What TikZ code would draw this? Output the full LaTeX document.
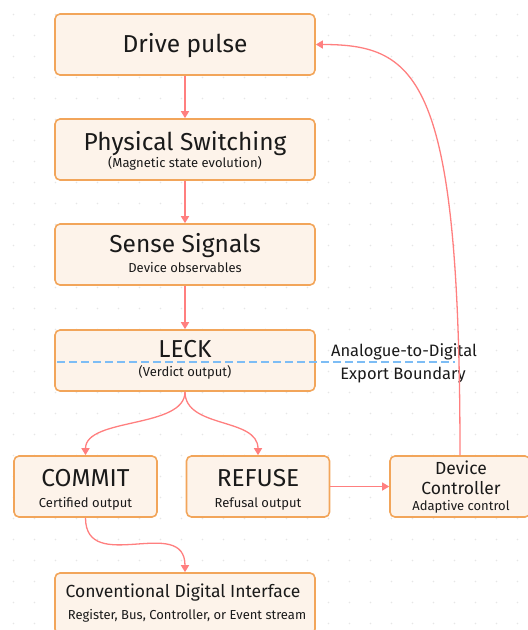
\documentclass[tikz,border=0pt]{standalone}
\usepackage{fontspec}
\setmainfont{Fira Sans}
\usepackage{tikz}
\usetikzlibrary{arrows.meta,calc}
\definecolor{boxfill}{HTML}{FDF3EA}
\definecolor{boxdraw}{HTML}{F2A55A}
\definecolor{flow}{HTML}{FF7F7F}
\definecolor{exportline}{HTML}{7DBDF5}
\definecolor{griddot}{HTML}{E6E6E6}
\definecolor{ink}{HTML}{1A1A1A}

\begin{document}
\begin{tikzpicture}[x=1pt,y=-1pt,thick]
        \tikzstyle{stage} = [draw=boxdraw,fill=boxfill,line width=1.6pt,rounded corners=5pt,minimum width=260pt,minimum height=61pt,inner sep=0pt]
        \tikzstyle{branch} = [stage,minimum width=143pt]
        \tikzstyle{title} = [anchor=base,inner sep=0pt,text=ink,font=\fontsize{24.5}{28}\selectfont]
        \tikzstyle{smalltitle} = [title,font=\fontsize{17.5}{20}\selectfont]
        \tikzstyle{subtitle} = [anchor=base,inner sep=0pt,text=ink,font=\fontsize{13}{15}\selectfont]
        \tikzstyle{flowline} = [draw=flow,line width=1.3pt,-{Triangle[length=7pt,width=8pt]}]
        \tikzstyle{boundary} = [draw=exportline,line width=1.5pt,dash pattern=on 8pt off 4pt]
        %
        \clip (0,0) rectangle (528,630);
        \useasboundingbox (0,0) rectangle (528,630);
        % Dot grid.
        \foreach \i in {0,...,25} {
            \foreach \j in {0,...,29} {
                \fill[griddot] (13.5+21*\i,14.5+21*\j) circle (0.8);
            }
        }
        % Main column.
        \node[stage] (drive) at (185,44.5) {};
        \node[title] (drivetitle) at (185,52) {Drive pulse};
        \node[stage] (switching) at (185,149.5) {};
        \node[title] (switchingtitle) at (185,150) {Physical Switching};
        \node[subtitle] (switchingsub) at (185,167) {(Magnetic state evolution)};
        \node[stage] (sense) at (185,254.5) {};
        \node[title] (sensetitle) at (185,252) {Sense Signals};
        \node[subtitle] (sensesub) at (185,272) {Device observables};
        \node[stage] (leck) at (185,360.5) {};
        \node[title] (lecktitle) at (185,357) {LECK};
        \node[subtitle] (lecksub) at (185,376) {(Verdict output)};
        % Branch row.
        \node[branch] (commit) at (85.5,486.5) {};
        \node[title] (committitle) at (85.5,486) {COMMIT};
        \node[subtitle] (commitsub) at (85.5,507) {Certified output};
        \node[branch] (refuse) at (258,486.5) {};
        \node[title] (refusetitle) at (258,486) {REFUSE};
        \node[subtitle] (refusesub) at (258,507) {Refusal output};
        \node[branch,minimum width=140pt] (controller) at (460,486.5) {};
        \node[smalltitle] (controllertitle) at (461,474) {Device};
        \node[smalltitle] (controllertitleb) at (461,494) {Controller};
        \node[subtitle] (controllersub) at (461,510) {Adaptive control};
        % Digital side.
        \node[stage] (interface) at (185,603.5) {};
        \node[smalltitle] (interfacetitle) at (183,597) {Conventional Digital Interface};
        \node[subtitle] (interfacesub) at (187,619) {Register, Bus, Controller, or Event stream};
        % Export boundary.
        \coordinate (bstart) at (57,362);
        \coordinate (bend) at (455,362);
        \draw[boundary] (bstart) -- (bend);
        \node[smalltitle,font=\fontsize{16.5}{19}\selectfont] (boundarytop) at (404,356) {Analogue-to-Digital};
        \node[smalltitle,font=\fontsize{16.5}{19}\selectfont] (boundarybottom) at (403,379) {Export Boundary};
        % Draw connectors.
        \draw[flowline] (drive) -- (switching);
        \draw[flowline] (switching) -- (sense);
        \draw[flowline] (sense) -- (leck);
        \draw[flowline] (leck.south) .. controls ($(leck.south)+(0,37)$) and ($(commit.north)+(0,-38)$) .. (commit.north);
        \draw[flowline] (leck.south) .. controls ($(leck.south)+(0,37)$) and ($(refuse.north)+(0,-38)$) .. (refuse.north);
        \draw[flowline] (commit.south) .. controls ($(commit.south)+(0,58)$) and ($(interface.north)+(0,-58)$) .. (interface.north);
        \draw[flowline] (refuse) -- (controller.west |- refuse);
        \draw[flowline] (controller.north) .. controls ($(controller.north)+(0,-376)$) and ($(drive.east)+(103,0)$) .. (drive.east);
        %
\end{tikzpicture}
\end{document}
